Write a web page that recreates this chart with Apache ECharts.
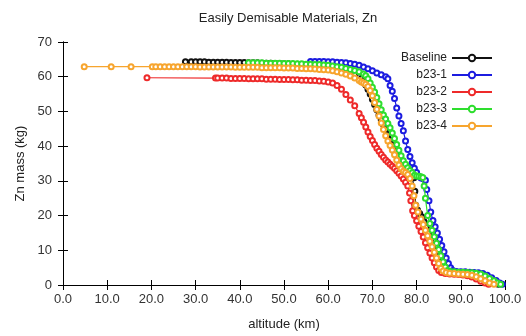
<!DOCTYPE html>
<html>
<head>
<meta charset="utf-8">
<script src="https://cdn.jsdelivr.net/npm/echarts@6/dist/echarts.min.js"></script>
<style>html,body{margin:0;padding:0;background:#fff}#c{width:526px;height:336px}</style>
</head>
<body>
<div id="c"></div>
<script>
var titleText = 'Easily Demisable Materials, Zn';
var xName = 'altitude (km)';
var yName = 'Zn mass (kg)';
var seriesNames = ['Baseline', 'b23-1', 'b23-2', 'b23-3', 'b23-4'];
var seriesColors = ['#111111', '#1c1ce0', '#ee2a2a', '#2ede2e', '#f7a52e'];

var baselineData = [[27.7,64.3],[29,64.3],[30,64.3],[31,64.3],[32,64.3],[33,64.2],[34,64.2],[35,64.2],[36,64.2],[37,64.2],[38,64.1],[39,64.1],[40,64.1],[41,64.1],[42,64],[43,64],[44,64],[45,63.9],[46,63.9],[47,63.9],[48,63.8],[49,63.8],[50,63.7],[51,63.7],[52,63.6],[53,63.6],[54,63.5],[55,63.4],[56,63.3],[57,63.2],[58,63.1],[59,63],[60,62.8],[61,62.6],[62,62.3],[63,62],[64,61.7],[65,61.3],[66,60.8],[67,60],[67.5,59.4],[68,58.6],[68.5,57.6],[69,56.4],[69.5,55],[70,53.5],[70.5,52],[71,50.5],[71.5,49],[72,47.6],[72.5,46.2],[73,44.8],[73.5,43.3],[74,41.8],[74.5,40.2],[75,38.6],[75.5,37.2],[76,35.8],[76.5,34.5],[77,33.4],[77.5,32.4],[78,31.7],[78.5,31.3],[79,31.1],[79.4,30.9],[79.6,27],[79.8,23],[80.2,21.6],[80.7,20.6],[81.2,19.6],[81.7,18.2],[82.2,16.6],[82.7,15],[83.2,13.3],[83.7,11.6],[84.2,9.9],[84.7,8.2],[85.2,6.6],[85.7,5.2],[86.2,4.2],[86.8,3.8],[87.5,3.6],[88.5,3.5],[89.5,3.4],[90.5,3.3],[91.5,3.2],[92.5,3],[93.5,2.8],[94.5,2.4],[95.5,1.8],[96.5,1.2],[97.5,0.6],[98.5,0.2]];

var b231Data = [[56,64.4],[57,64.4],[58,64.4],[59,64.4],[60,64.3],[61,64.3],[62,64.2],[63,64.1],[64,64],[65,63.8],[66,63.6],[67,63.3],[68,62.8],[69,62.3],[70,61.7],[71,61.1],[72,60.6],[73,60],[73.5,59.4],[74,57.5],[74.5,55.8],[75,53.7],[75.5,51],[76,48.7],[76.5,46.5],[77,44.4],[77.5,41.5],[78,39],[78.5,37],[79,35.2],[79.5,33.6],[80,32.4],[80.5,31.3],[81,30.8],[81.5,30.6],[82,30.2],[82.3,27.5],[82.8,24.3],[83.2,21],[83.7,18.6],[84.2,16.8],[84.7,15],[85.2,13.2],[85.7,11.4],[86.2,9.6],[86.7,7.8],[87.2,6.2],[87.7,5],[88.2,4.2],[89,3.9],[90,3.8],[91,3.8],[92,3.7],[93,3.6],[94,3.5],[95,3.3],[96,2.8],[97,2.1],[98,1.3],[98.8,0.6],[99.4,0.2]];

var b232Data = [[19,59.7],[34.5,59.6],[35,59.6],[36,59.6],[37,59.6],[38,59.5],[39,59.5],[40,59.5],[41,59.5],[42,59.4],[43,59.4],[44,59.4],[45,59.4],[46,59.3],[47,59.3],[48,59.3],[49,59.2],[50,59.2],[51,59.2],[52,59.1],[53,59.1],[54,59],[55,59],[56,58.9],[57,58.9],[58,58.8],[59,58.7],[60,58.5],[61,58.2],[62,57.5],[63,56.4],[64,54.9],[65,53.3],[66,51.6],[67,49.4],[67.5,48.2],[68,46.9],[68.5,45.5],[69,44.1],[69.5,42.8],[70,41.6],[70.5,40.5],[71,39.4],[71.5,38.5],[72,37.6],[72.5,36.8],[73,36],[73.5,35.4],[74,34.8],[74.5,34.2],[75,33.6],[75.5,32.9],[76,32.2],[76.5,31.4],[77,30.5],[77.5,29.6],[78,28.5],[78.4,26.5],[78.7,24.3],[79.1,21.4],[79.5,20],[80,18.5],[80.5,16.9],[81,15.4],[81.5,13.8],[82,12.2],[82.5,10.7],[83,9.2],[83.5,7.8],[84,6.4],[84.5,5.2],[85,4.2],[85.6,3.6],[86.5,3.3],[87.5,3.2],[88.5,3.1],[89.5,3],[90.5,2.9],[91.5,2.7],[92.5,2.3],[93.5,1.7],[94.5,1.1],[95.5,0.6],[96.3,0.2]];

var b233Data = [[42,64],[43,64],[44,64],[45,64],[46,63.9],[47,63.9],[48,63.9],[49,63.9],[50,63.8],[51,63.8],[52,63.8],[53,63.7],[54,63.7],[55,63.6],[56,63.6],[57,63.5],[58,63.5],[59,63.4],[60,63.3],[61,63.1],[62,62.9],[63,62.7],[64,62.4],[65,62.1],[66,61.8],[67,61.4],[68,60.8],[68.5,60.3],[69,59.4],[69.5,58.2],[70,57],[70.5,55.6],[71,54],[71.5,52.2],[72,50.5],[72.5,49],[73,47.8],[73.5,46.5],[74,45.3],[74.5,43.8],[75,42.2],[75.5,40.5],[76,38.8],[76.5,37.2],[77,35.8],[77.5,34.8],[78,33.8],[78.5,33],[79,32.3],[79.5,31.6],[80,31.4],[80.5,31.3],[81,31.2],[81.4,31],[81.7,28.5],[82,25],[82.5,20],[83,17.7],[83.5,15.8],[84,13.9],[84.5,12],[85,10.2],[85.5,8.4],[86,6.7],[86.5,5.2],[87,4.2],[87.6,3.9],[88.5,3.8],[89.5,3.7],[90.5,3.7],[91.5,3.6],[92.5,3.5],[93.5,3.4],[94.5,3.2],[95.5,2.6],[96.5,1.9],[97.5,1.2],[98.3,0.6],[99,0.2]];

var b234Data = [[4.8,62.9],[10.9,62.9],[15.4,62.9],[20.2,62.9],[21,62.9],[22,62.9],[23,62.9],[24,62.9],[25,62.9],[26,62.9],[27,62.9],[28,62.9],[29,62.9],[30,62.9],[31,62.8],[32,62.8],[33,62.8],[34,62.8],[35,62.8],[36,62.8],[37,62.8],[38,62.8],[39,62.7],[40,62.7],[41,62.7],[42,62.7],[43,62.7],[44,62.7],[45,62.6],[46,62.6],[47,62.6],[48,62.6],[49,62.6],[50,62.5],[51,62.5],[52,62.5],[53,62.4],[54,62.4],[55,62.3],[56,62.3],[57,62.2],[58,62.1],[59,62],[60,61.9],[61,61.7],[62,61.4],[63,61.1],[64,60.7],[65,60.2],[66,59.6],[67,58.9],[67.5,58.5],[68,58.2],[68.5,57.8],[69,57.2],[69.5,56],[70,54.5],[70.5,52.6],[71,50.6],[71.5,48.7],[72,46.7],[72.5,44.8],[73,43],[73.5,41.5],[74,40.2],[74.5,38.9],[75,37.5],[75.5,36],[76,34.6],[76.5,33.5],[77,32.8],[77.5,32.4],[78,31.8],[78.5,30.7],[79,28.5],[79.4,25.7],[79.8,23],[80.3,21],[81,19],[81.5,17.4],[82,15.8],[82.5,14.2],[83,12.6],[83.5,11],[84,9.4],[84.5,7.8],[85,6.2],[85.5,4.8],[86,4],[86.7,3.6],[87.5,3.4],[88.5,3.3],[89.5,3.2],[90.5,3.1],[91.5,3],[92.5,2.8],[93.5,2.4],[94.5,1.8],[95.5,1.2],[96.5,0.6],[97.5,0.2]];

var allData = [baselineData, b231Data, b232Data, b233Data, b234Data];
var xTickLabels = ['0.0','10.0','20.0','30.0','40.0','50.0','60.0','70.0','80.0','90.0','100.0'];

var FONT = 'Liberation Sans, Arial, sans-serif';
var chart = echarts.init(document.getElementById('c'), null, {renderer: 'canvas'});

var axisLineStyle = {show: true, lineStyle: {color: '#000', width: 1}};
var tickStyle = {show: true, inside: true, length: 5, lineStyle: {color: '#000', width: 1}};

var series = seriesNames.map(function (n, i) {
  return {
    name: n,
    type: 'line',
    data: allData[i],
    symbol: 'emptyCircle',
    symbolSize: 5,
    showAllSymbol: true,
    lineStyle: {color: seriesColors[i], width: 1.2},
    itemStyle: {color: seriesColors[i], borderColor: seriesColors[i], borderWidth: 1},
    emphasis: {disabled: true},
    animation: false,
    z: 2 + i
  };
});

chart.setOption({
  backgroundColor: '#fff',
  animation: false,
  title: {
    text: titleText,
    left: 283, top: 7, textAlign: 'center',
    textStyle: {fontFamily: FONT, fontSize: 13, fontWeight: 'normal', color: '#222'}
  },
  legend: {
    orient: 'vertical',
    right: 28, top: 47,
    align: 'right',
    itemWidth: 40, itemHeight: 8, itemGap: 5,
    data: seriesNames,
    textStyle: {fontFamily: FONT, fontSize: 12, color: '#222'},
    selectedMode: false
  },
  grid: {left: 63, right: 21, top: 42, bottom: 48, containLabel: false},
  xAxis: [{
    type: 'value', min: 0, max: 100, interval: 10,
    name: xName, nameLocation: 'middle', nameGap: 33,
    nameTextStyle: {fontFamily: FONT, fontSize: 13, color: '#222'},
    axisLine: axisLineStyle, axisTick: tickStyle,
    axisLabel: {fontFamily: FONT, fontSize: 13, color: '#333', margin: 8,
      formatter: function (v) { return xTickLabels[Math.round(v / 10)]; }},
    splitLine: {show: false}
  }, {
    type: 'value', min: 0, max: 100, interval: 10, position: 'top',
    axisLine: axisLineStyle, axisTick: tickStyle, axisLabel: {show: false}, splitLine: {show: false}
  }],
  yAxis: [{
    type: 'value', min: 0, max: 70, interval: 10,
    name: yName, nameLocation: 'middle', nameGap: 35,
    nameTextStyle: {fontFamily: FONT, fontSize: 13, color: '#222'},
    axisLine: axisLineStyle, axisTick: tickStyle,
    axisLabel: {fontFamily: FONT, fontSize: 13, color: '#333', margin: 11},
    splitLine: {show: false}
  }, {
    type: 'value', min: 0, max: 70, interval: 10, position: 'right',
    axisLine: axisLineStyle, axisTick: tickStyle, axisLabel: {show: false}, splitLine: {show: false}
  }],
  series: series
});
</script>
</body>
</html>
